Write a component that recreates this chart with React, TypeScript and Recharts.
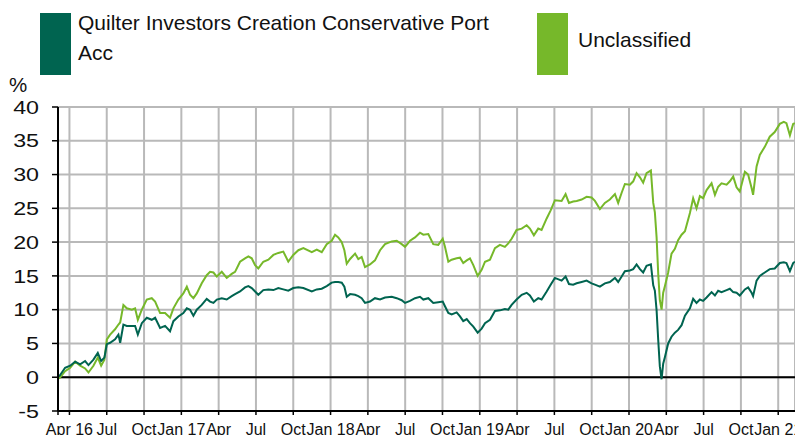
import { LineChart, Line, XAxis, YAxis, CartesianGrid, ReferenceLine } from 'recharts'

// x position in months since 1 Apr 2016
const months = [
  -0.83, -0.35, 0.06, 0.46, 0.86, 1.26, 1.53, 1.93, 2.28, 2.55, 2.81, 3.01, 3.27, 3.67, 3.94, 4.08, 4.34, 4.61, 5.02, 5.28, 5.5, 5.82, 6.22, 6.62, 6.89, 7.29, 7.69, 8.09, 8.36, 8.76,
  9.16, 9.44, 9.7, 9.97, 10.24, 10.64, 11.04, 11.31, 11.58, 11.85, 12.25, 12.65, 13.05, 13.32, 13.72, 14.12, 14.39, 14.66, 14.93, 15.19, 15.59, 16.0, 16.4, 16.8, 17.2, 17.6, 18.0, 18.41, 18.81,
  19.49, 19.89, 20.29, 20.69, 21.09, 21.36, 21.62, 21.9, 22.11, 22.3, 22.57, 22.97, 23.23, 23.5, 23.77, 24.17, 24.57, 24.98, 25.38, 25.92, 26.32, 26.72, 26.99, 27.39, 27.79, 28.19, 28.46, 28.86, 29.26,
  29.66, 30.02, 30.2, 30.47, 30.74, 31.14, 31.41, 31.67, 31.95, 32.21, 32.48, 32.83, 33.15, 33.42, 33.82, 34.22, 34.62, 35.02, 35.29, 35.56, 35.96, 36.37, 36.77, 37.03, 37.35, 37.7, 37.97, 38.38, 38.7, 39.04,
  39.58, 39.9, 40.17, 40.51, 40.79, 41.19, 41.59, 41.99, 42.26, 42.66, 43.06, 43.46, 43.87, 44.13, 44.41, 44.67, 45.07, 45.34, 45.61, 45.88, 46.14, 46.41, 46.76, 46.95, 47.08, 47.22, 47.35, 47.48, 47.62, 47.75, 47.89, 48.15, 48.42, 48.69, 48.95, 49.23,
  49.5, 49.9, 50.16, 50.43, 50.7, 50.96, 51.24, 51.64, 51.91, 52.17, 52.44, 52.85, 53.11, 53.38, 53.65, 53.91, 54.32, 54.58, 54.86, 54.98, 55.26, 55.52, 55.92, 56.32, 56.72, 57.13, 57.45, 57.66, 57.94, 58.2, 58.34,
]

const fundReturns = [
  0.1, 1.4, 1.7, 2.3, 1.9, 2.4, 1.8, 2.6, 3.6, 2.4, 2.9, 4.9, 5.1, 5.6, 6.3, 5.1, 7.8, 7.6, 7.6, 7.6, 6.3, 8.0, 8.8, 8.5, 8.8, 7.3, 7.6, 6.8, 8.3, 9.0,
  9.5, 10.2, 10.0, 9.1, 10.0, 10.7, 11.6, 11.2, 11.0, 11.5, 11.7, 11.5, 12.0, 12.3, 12.7, 13.3, 13.5, 13.2, 12.7, 12.2, 12.9, 13.0, 12.9, 13.2, 13.0, 12.8, 13.2, 13.3, 13.2,
  12.7, 13.0, 13.1, 13.5, 14.0, 14.1, 14.1, 14.0, 13.4, 11.9, 12.3, 12.2, 12.0, 11.7, 11.0, 11.2, 11.7, 11.5, 11.8, 11.9, 11.7, 11.4, 11.0, 11.3, 11.7, 11.9, 11.5, 11.7, 11.0,
  11.1, 11.2, 10.5, 9.5, 9.3, 9.6, 9.0, 8.3, 8.6, 8.0, 7.5, 6.6, 7.2, 8.0, 8.5, 9.8, 9.9, 10.1, 10.0, 10.7, 11.5, 12.2, 12.5, 12.1, 11.2, 11.7, 11.5, 12.7, 13.7, 14.7,
  14.3, 14.9, 13.8, 13.7, 13.9, 14.1, 14.3, 13.9, 13.7, 13.4, 13.9, 14.1, 14.7, 14.1, 14.9, 15.7, 15.8, 16.0, 16.7, 16.0, 15.5, 16.5, 16.7, 13.6, 12.8, 9.9, 5.5, 1.6, -0.3, 2.0, 3.0, 5.0, 6.0, 6.6, 7.0, 7.7,
  9.1, 10.2, 11.6, 11.0, 11.5, 11.3, 11.8, 12.6, 12.1, 12.8, 12.6, 12.9, 13.1, 12.6, 12.5, 12.1, 13.0, 13.3, 12.5, 12.0, 14.3, 15.0, 15.5, 16.0, 16.1, 16.9, 17.0, 16.9, 15.7, 16.9, 17.1,
]

const sectorReturns = [
  -0.2, 0.9, 1.4, 2.3, 1.7, 1.3, 0.7, 1.7, 2.9, 1.7, 2.6, 5.6, 6.3, 7.1, 7.8, 8.1, 10.7, 10.2, 10.0, 10.2, 8.5, 10.0, 11.5, 11.7, 11.2, 9.5, 9.5, 8.8, 10.2, 11.5,
  12.4, 13.4, 12.2, 11.7, 12.4, 13.9, 15.1, 15.6, 15.5, 14.9, 15.6, 14.7, 15.3, 15.6, 17.1, 17.6, 17.9, 17.6, 16.6, 16.1, 17.1, 17.4, 18.1, 18.4, 18.6, 17.1, 18.1, 18.8, 19.1,
  18.5, 18.9, 18.5, 19.7, 20.2, 21.1, 20.7, 20.0, 18.8, 16.8, 17.5, 18.3, 17.5, 17.8, 16.3, 16.7, 17.3, 18.8, 19.7, 20.1, 20.2, 19.7, 19.3, 20.2, 20.7, 21.4, 21.1, 21.2, 19.7,
  19.6, 20.5, 19.3, 17.1, 17.4, 17.6, 17.7, 16.9, 17.3, 17.6, 16.6, 15.0, 15.9, 17.1, 17.4, 19.1, 19.6, 19.3, 19.8, 20.5, 21.8, 22.0, 22.5, 22.0, 21.0, 22.0, 21.8, 23.5, 24.7, 26.2,
  26.1, 27.1, 25.8, 26.0, 26.1, 26.3, 26.7, 26.6, 26.1, 24.9, 25.8, 26.3, 27.1, 25.8, 27.3, 28.6, 28.5, 29.0, 30.2, 29.6, 28.8, 30.2, 30.6, 25.8, 24.4, 20.7, 15.3, 11.4, 10.0, 12.5, 13.5, 15.5, 18.3, 19.0, 20.3, 21.1,
  21.6, 24.3, 26.5, 25.0, 26.8, 26.5, 27.7, 28.7, 27.0, 28.2, 28.7, 28.5, 29.0, 29.7, 28.1, 27.5, 30.4, 30.0, 28.0, 27.0, 31.2, 32.9, 34.1, 35.6, 36.3, 37.5, 37.8, 37.6, 35.8, 37.5, 37.6,
]

const xTicks = [-0.92, 0, 3, 6, 9, 12, 15, 18, 21, 24, 27, 30, 33, 36, 39, 42, 45, 48, 51, 54, 57]
const xTickLabels = ['', 'Apr 16', 'Jul', 'Oct', 'Jan 17', 'Apr', 'Jul', 'Oct', 'Jan 18', 'Apr', 'Jul', 'Oct', 'Jan 19', 'Apr', 'Jul', 'Oct', 'Jan 20', 'Apr', 'Jul', 'Oct', 'Jan 21']
const yTicks = [-5, 0, 5, 10, 15, 20, 25, 30, 35, 40]

const FUND = '#006450'
const SECTOR = '#76b82a'
const GRID = '#b9b9b9'
const FONT = '"Liberation Sans", Arial, sans-serif'

const data = months.map((m, i) => ({ m, fund: fundReturns[i], sector: sectorReturns[i] }))

// y labels in the reference are drawn a bit wide
function YTick({ x, y, payload }: any) {
  return (
    <g transform={`translate(${x},${y})`}>
      <text
        x={0}
        y={0}
        dy="0.36em"
        textAnchor="end"
        transform="scale(1.25,1)"
        fill="#111"
        fontSize={18.6}
        fontFamily={FONT}
      >
        {payload.value}
      </text>
    </g>
  )
}

export default function App() {
  return (
    <div
      style={{
        position: 'absolute',
        left: 0,
        top: 0,
        width: 795,
        height: 435,
        overflow: 'hidden',
        background: '#fff',
        fontFamily: FONT,
      }}
    >
      {/* legend */}
      <div style={{ position: 'absolute', left: 40, top: 13, width: 31, height: 62, background: FUND }} />
      <div style={{ position: 'absolute', left: 78, top: 8, width: 432, fontSize: 21, lineHeight: '30px', color: '#111' }}>
        Quilter Investors Creation Conservative Port Acc
      </div>
      <div style={{ position: 'absolute', left: 537, top: 13, width: 31, height: 62, background: SECTOR }} />
      <div style={{ position: 'absolute', left: 578, top: 25, fontSize: 21, lineHeight: '30px', color: '#111' }}>
        Unclassified
      </div>
      <div style={{ position: 'absolute', left: 9, top: 73, fontSize: 20.5, lineHeight: '24px', color: '#111' }}>%</div>

      <div style={{ position: 'absolute', left: 0, top: 0 }}>
        <LineChart width={795} height={435} data={data} margin={{ top: 107, right: 0, bottom: 0, left: 0 }}>
          <CartesianGrid stroke={GRID} strokeWidth={2} />
          <XAxis
            dataKey="m"
            type="number"
            domain={[-0.92, 58.35]}
            allowDataOverflow
            ticks={xTicks}
            interval={0}
            tickFormatter={(v) => xTickLabels[xTicks.indexOf(v)] ?? ''}
            height={24}
            tickSize={4}
            tickMargin={9}
            axisLine={{ stroke: '#000', strokeWidth: 2 }}
            tickLine={{ stroke: '#000', strokeWidth: 1.5 }}
            tick={{ fill: '#111', fontSize: 16, fontFamily: FONT }}
          />
          <YAxis
            type="number"
            domain={[-5, 40]}
            ticks={yTicks}
            interval={0}
            width={58}
            tickSize={6}
            tickMargin={13}
            axisLine={{ stroke: '#000', strokeWidth: 2 }}
            tickLine={{ stroke: '#000', strokeWidth: 1.5 }}
            tick={<YTick />}
          />
          <ReferenceLine y={0} stroke="#000" strokeWidth={2} />
          <Line
            type="linear"
            dataKey="sector"
            stroke={SECTOR}
            strokeWidth={2}
            dot={false}
            isAnimationActive={false}
          />
          <Line
            type="linear"
            dataKey="fund"
            stroke={FUND}
            strokeWidth={2}
            dot={false}
            isAnimationActive={false}
          />
        </LineChart>
      </div>
    </div>
  )
}
